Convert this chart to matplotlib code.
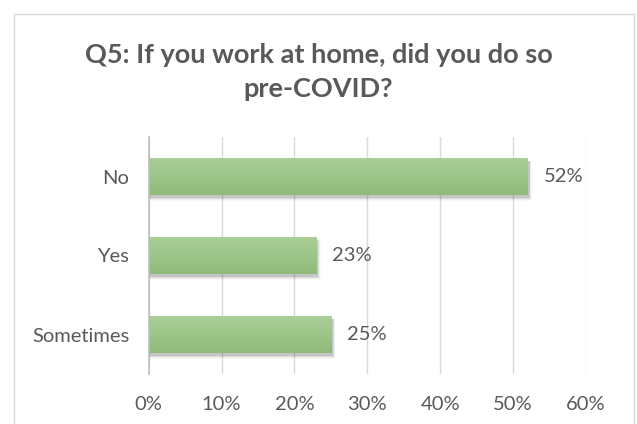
import numpy as np
import matplotlib
matplotlib.use("Agg")
import matplotlib.pyplot as plt
from matplotlib.colors import LinearSegmentedColormap
from matplotlib.patches import Rectangle
from matplotlib.ticker import PercentFormatter

# survey answers, bottom to top
answers = ["Sometimes", "Yes", "No"]
shares = [0.25, 0.23, 0.52]
ticks = [0.0, 0.1, 0.2, 0.3, 0.4, 0.5, 0.6]
title = "Q5: If you work at home, did you do so\npre-COVID?"

plt.rcParams["font.family"] = ["Lato", "DejaVu Sans"]
grey_text = "#595959"

fig = plt.figure(figsize=(6.37, 4.24), dpi=100)
fig.patch.set_facecolor("white")

# outer chart frame
fig.add_artist(Rectangle((14 / 637, -0.01), 620 / 637, 1 - 14 / 424 + 0.01,
                         transform=fig.transFigure, fill=False,
                         edgecolor="#d9d9d9", linewidth=1.0))

fig.text(0.5, 1 - 72 / 424, title, ha="center", va="center",
         fontsize=19.5, fontweight="bold", color=grey_text, linespacing=1.46)

ax = fig.add_axes([148.7 / 637, 1 - 374 / 424, 437.3 / 637, 237 / 424])

green = LinearSegmentedColormap.from_list("bar_green", ["#aacf98", "#8fbb7a"])
h = 0.48
px_y = 3 / 237   # one pixel in category units
px_x = 0.6 / 437.3

for i, v in enumerate(shares):
    # soft drop shadow under each bar
    for k, a in enumerate([0.10, 0.07, 0.045, 0.025]):
        ax.add_patch(Rectangle((0, i - h / 2 - 3 * px_y - k * px_y * 0.8),
                               v + 2 * px_x + k * px_x * 0.8, h + k * px_y * 0.8,
                               facecolor="black", edgecolor="none", alpha=a,
                               zorder=2))
    bar = ax.barh(i, v, height=h, color="none", zorder=3)[0]
    grad = np.linspace(0, 1, 64).reshape(-1, 1)
    im = ax.imshow(grad, cmap=green, extent=[0, v, i - h / 2, i + h / 2],
                   aspect="auto", origin="upper", zorder=3)
    im.set_clip_path(bar)
    ax.text(v + 16 * px_x, i, f"{v:.0%}", va="center", ha="left",
            fontsize=14.5, color=grey_text)

ax.set_xlim(0, 0.6)
ax.set_ylim(-0.5, len(answers) - 0.5)
ax.set_xticks(ticks)
ax.xaxis.set_major_formatter(PercentFormatter(1.0, decimals=0))
ax.set_yticks(range(len(answers)))
ax.set_yticklabels(answers)

ax.grid(axis="x", color="#d9d9d9", linewidth=1.0)
ax.set_axisbelow(True)
for side in ["top", "right", "bottom"]:
    ax.spines[side].set_visible(False)
ax.spines["left"].set_color("#bfbfbf")
ax.spines["left"].set_linewidth(1.2)
ax.spines["left"].set_zorder(4)

ax.tick_params(axis="both", length=0, labelsize=14.5, labelcolor=grey_text)
ax.tick_params(axis="x", pad=16)
ax.tick_params(axis="y", pad=14)

fig.savefig("out.png", dpi=100, facecolor="white")
